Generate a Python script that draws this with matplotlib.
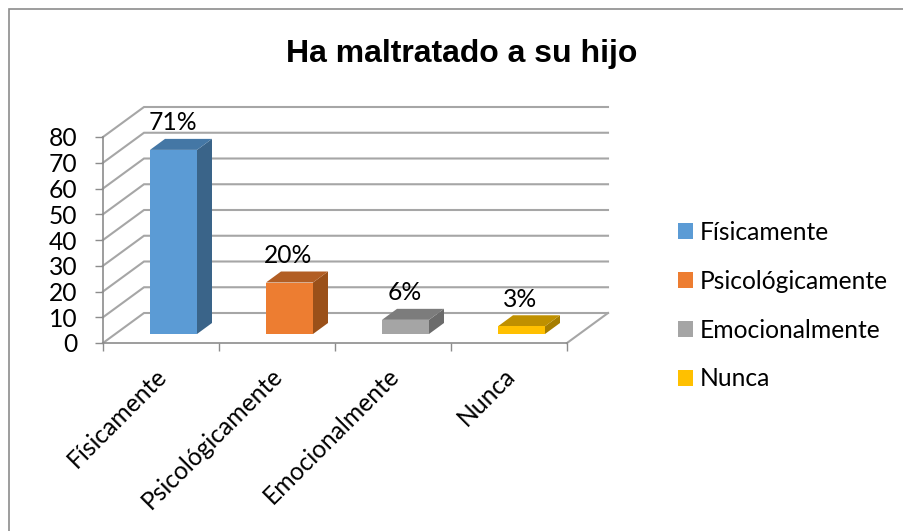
import matplotlib
matplotlib.use('Agg')
import matplotlib.pyplot as plt
from matplotlib.patches import Patch, Polygon, Rectangle

categories = ['Físicamente', 'Psicológicamente', 'Emocionalmente', 'Nunca']
values = [71.5, 20, 5.5, 3]
labels = ['71%', '20%', '6%', '3%']
y_ticks = [0, 10, 20, 30, 40, 50, 60, 70, 80]

front_colors = ['#5B9BD5', '#ED7D31', '#A5A5A5', '#FFC000']
top_colors = ['#4477A5', '#B25E24', '#7C7C7C', '#BF9000']
side_colors = ['#3A6489', '#9A5019', '#6B6B6B', '#A67D00']

W, H = 904, 531
LEFT, RIGHT, BOTTOM, TOP = 103, 567, 343, 137
GRID = '#A6A6A6'
AXIS = '#8C8C8C'
FONT = 17.7

fig = plt.figure(figsize=(W / 100, H / 100), dpi=100)
ax = fig.add_axes([LEFT / W, 1 - BOTTOM / H, (RIGHT - LEFT) / W, (BOTTOM - TOP) / H])
ax.set_xlim(0, len(categories))
ax.set_ylim(0, 80)
ax.patch.set_visible(False)

# px to data units, the 3d look is only offsets
ux = (RIGHT - LEFT) / len(categories)
uy = (BOTTOM - TOP) / 80
wall_dx, wall_dy = 41 / ux, 30 / uy
bar_dx, bar_dy = 15 / ux, 11 / uy
start_dx, start_dy = 12.5 / ux, 9 / uy
bar_w = 47 / ux

for v in y_ticks:
    ax.plot([0, wall_dx, len(categories) + wall_dx], [v, v + wall_dy, v + wall_dy],
            color=GRID, lw=1.5, clip_on=False, zorder=1, solid_joinstyle='miter')
ax.plot([len(categories), len(categories) + wall_dx], [0, wall_dy], color=GRID, lw=1.5, clip_on=False, zorder=1)

for i, v in enumerate(values):
    x0 = i + 0.5 - bar_w / 2 + start_dx
    x1 = x0 + bar_w
    y0 = start_dy
    y1 = y0 + v
    ax.add_patch(Polygon([(x1, y0), (x1 + bar_dx, y0 + bar_dy), (x1 + bar_dx, y1 + bar_dy), (x1, y1)],
                         facecolor=side_colors[i], edgecolor='none', clip_on=False, zorder=3))
    ax.add_patch(Polygon([(x0, y1), (x1, y1), (x1 + bar_dx, y1 + bar_dy), (x0 + bar_dx, y1 + bar_dy)],
                         facecolor=top_colors[i], edgecolor='none', clip_on=False, zorder=3))
    ax.add_patch(Rectangle((x0, y0), bar_w, v, facecolor=front_colors[i], edgecolor='none',
                           clip_on=False, zorder=3))
    ax.annotate(labels[i], (x0 + bar_w / 2 - 1 / ux, y1), xytext=(0, 14), textcoords='offset points',
                ha='center', va='baseline', fontsize=FONT, family='Lato', color='black', zorder=5,
                annotation_clip=False)

for s in ['top', 'right']:
    ax.spines[s].set_visible(False)
for s in ['left', 'bottom']:
    ax.spines[s].set_color(AXIS)
    ax.spines[s].set_linewidth(1.2)
    ax.spines[s].set_zorder(2)

ax.set_yticks(y_ticks)
ax.set_xticks(range(len(categories) + 1))
ax.set_xticklabels([])
# labels sit a bit left of the category centre
ax.set_xticks([i + 0.5 - 6 / ux for i in range(len(categories))], minor=True)
ax.set_xticklabels(categories, minor=True, rotation=45, ha='right', va='top',
                   rotation_mode='anchor', fontsize=FONT, family='Lato')
ax.tick_params(axis='x', which='major', length=6, width=1, color=AXIS)
ax.tick_params(axis='x', which='minor', length=0, pad=15)
ax.tick_params(axis='y', length=6, width=1, color=AXIS, labelsize=FONT, pad=12.4)
for t in ax.get_yticklabels():
    t.set_family('Lato')

fig.text(462 / W, 1 - 62 / H, 'Ha maltratado a su hijo', family='Liberation Sans', fontweight='bold',
         fontsize=23, ha='center', va='baseline')

handles = [Patch(facecolor=c, edgecolor='none', label=n) for c, n in zip(front_colors, categories)]
leg = fig.legend(handles=handles, loc='upper left', bbox_to_anchor=(678 / W, 1 - 221 / H),
                 frameon=False, prop={'family': 'Lato', 'size': FONT}, borderaxespad=0, borderpad=0,
                 handlelength=0.61, handleheight=0.61, handletextpad=0.28, labelspacing=1.05)

# outer chart frame, only top and left fall inside the image
fig.add_artist(Rectangle((8.5 / W, -0.01), 1.1, 1 - 9.5 / H + 0.01, transform=fig.transFigure,
                         facecolor='none', edgecolor='#8C8C8C', lw=1.2))

fig.savefig('out.png', dpi=100, facecolor='white')
